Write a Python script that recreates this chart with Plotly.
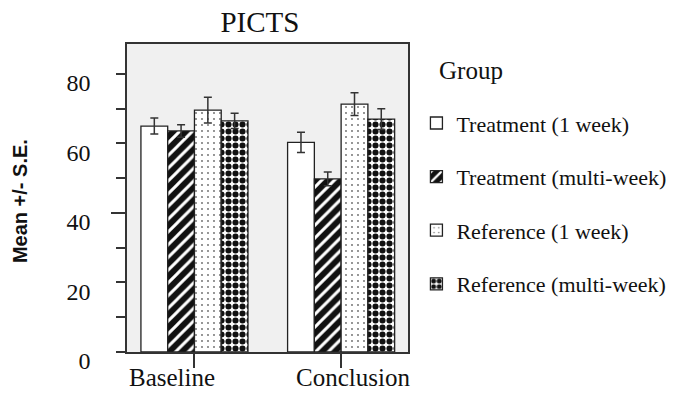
import plotly.graph_objects as go

# PICTS scores by assessment point and group (mean and standard error)
phases = ["Baseline", "Conclusion"]
groups = [
    "Treatment (1 week)",
    "Treatment (multi-week)",
    "Reference (1 week)",
    "Reference (multi-week)",
]
means = {
    "Treatment (1 week)": [65.0, 60.3],
    "Treatment (multi-week)": [63.6, 49.8],
    "Reference (1 week)": [69.6, 71.3],
    "Reference (multi-week)": [66.5, 67.0],
}
std_err = {
    "Treatment (1 week)": [2.3, 2.9],
    "Treatment (multi-week)": [1.8, 2.0],
    "Reference (1 week)": [3.7, 3.3],
    "Reference (multi-week)": [2.2, 3.0],
}
y_tick_vals = [0, 10, 20, 30, 40, 50, 60, 70, 80]
y_tick_text = ["0", "", "20", "", "40", "", "60", "", "80"]

# fill pattern per group: shape, foreground, background, size, solidity
patterns = {
    "Treatment (1 week)": dict(shape="", bgcolor="white"),
    "Treatment (multi-week)": dict(shape="/", fgcolor="white", bgcolor="#111111",
                                   size=9, solidity=0.33),
    "Reference (1 week)": dict(shape=".", fgcolor="#666666", bgcolor="white",
                               size=6, solidity=0.07),
    "Reference (multi-week)": dict(shape=".", fgcolor="#111111", bgcolor="white",
                                   size=7, solidity=0.6),
}

SERIF = "Liberation Serif, Times New Roman, serif"
fig = go.Figure()

for i, g in enumerate(groups):
    fig.add_trace(go.Bar(
        name=g,
        x=phases,
        y=means[g],
        legendgroup=g,
        marker=dict(
            color="white",
            pattern=dict(fillmode="replace", **patterns[g]),
            line=dict(color="#222222", width=1.3),
        ),
        error_y=dict(type="data", array=std_err[g], visible=True,
                     color="#333333", thickness=1.5, width=4),
    ))

# longer tick mark at 40 on an overlaid axis
fig.add_trace(go.Scatter(x=phases, y=[None, None], yaxis="y2",
                         showlegend=False, hoverinfo="skip"))

fig.update_layout(
    width=686, height=396,
    margin=dict(l=127, r=278, t=44, b=44),
    paper_bgcolor="white",
    plot_bgcolor="#f0f0f0",
    barmode="group",
    bargap=0.27,
    bargroupgap=0,
    font=dict(family=SERIF, color="#111111"),
    title=dict(text="PICTS", x=0.473, xref="paper", xanchor="center",
               y=1 - 22 / 396, yref="container", yanchor="middle",
               font=dict(family=SERIF, size=29, color="#111111")),
    xaxis=dict(
        range=[-0.46, 1.456],
        showline=True, linecolor="#333333", linewidth=1.5, mirror=True,
        ticks="outside", ticklen=14, tickwidth=1.5, tickcolor="#333333",
        showticklabels=False, showgrid=False, zeroline=False,
    ),
    yaxis=dict(
        range=[0, 88.6],
        tickvals=y_tick_vals, ticktext=y_tick_text,
        showline=True, linecolor="#333333", linewidth=1.5, mirror=True,
        ticks="outside", ticklen=9, tickwidth=1.5, tickcolor="#333333",
        ticklabelstandoff=21, ticklabelshift=9,
        tickfont=dict(family=SERIF, size=24, color="#111111"),
        showgrid=False, zeroline=False,
    ),
    yaxis2=dict(
        range=[0, 88.6], overlaying="y", side="left",
        tickvals=[40], ticks="outside", ticklen=15, tickwidth=1.5,
        tickcolor="#333333", showticklabels=False, showgrid=False,
        zeroline=False, showline=False,
    ),
    legend=dict(
        x=1.03, xanchor="left", y=0.811, yanchor="top",
        font=dict(family=SERIF, size=22, color="#111111"),
        traceorder="grouped", tracegroupgap=22,
        bgcolor="rgba(0,0,0,0)",
    ),
    showlegend=True,
)

# legend heading
fig.add_annotation(x=1.0, xref="paper", xshift=29, y=1.0, yref="paper",
                   yshift=-26, xanchor="left", yanchor="middle", showarrow=False,
                   text="Group", font=dict(family=SERIF, size=25, color="#111111"))

# category labels under the axis
label_shift = {"Baseline": -22, "Conclusion": 12}
for p in phases:
    fig.add_annotation(x=p, xref="x", y=0, yref="paper", yanchor="top",
                       yshift=-10, xshift=label_shift[p], showarrow=False,
                       text=p, font=dict(family=SERIF, size=25, color="#111111"))

# y-axis title
fig.add_annotation(x=0, xref="paper", xshift=-107, xanchor="center",
                   y=0.49, yref="paper", yanchor="middle",
                   text="<b>Mean +/- S.E.</b>", textangle=-90, showarrow=False,
                   font=dict(family="Liberation Sans, Arial, sans-serif", size=20,
                             color="#111111"))

fig.write_html("out.html")
